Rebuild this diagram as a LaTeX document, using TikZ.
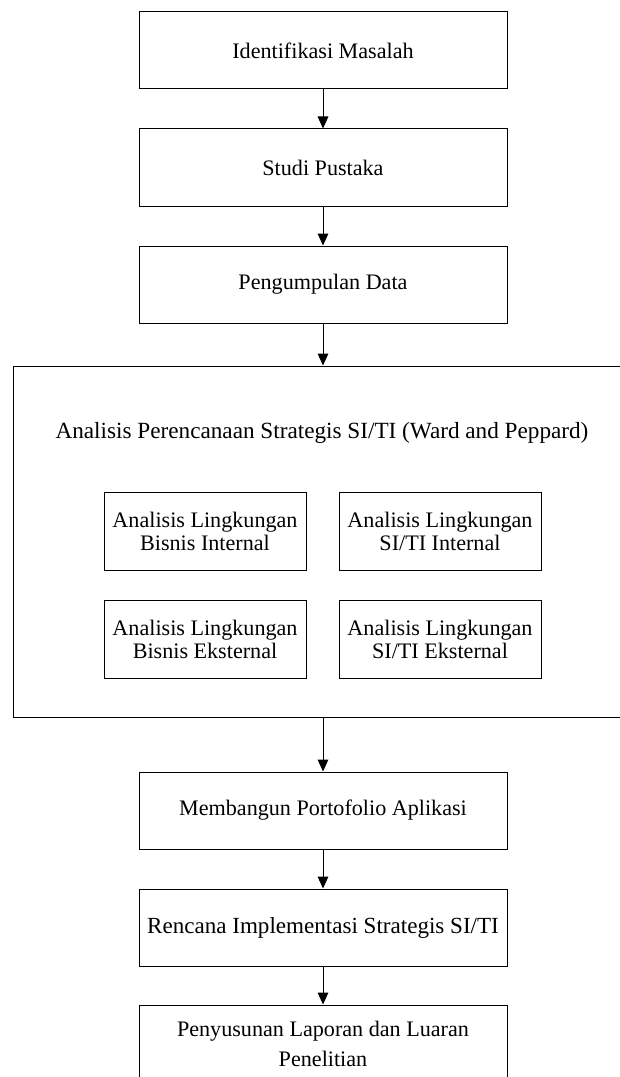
\documentclass[tikz,border=0pt]{standalone}
\usepackage{fontspec}
\setmainfont{Liberation Serif}
\usetikzlibrary{arrows.meta,positioning}

\begin{document}
\begin{tikzpicture}[x=0.75pt,y=-0.75pt,
      box/.style={draw,line width=0.75pt,align=center,minimum height=57.75pt,minimum width=276pt,
        font=\fontsize{16.6}{17.25}\selectfont},
      subbox/.style={draw,line width=0.6pt,align=center,minimum height=58.5pt,minimum width=151.5pt,
        font=\fontsize{16.6}{17.25}\selectfont},
      arr/.style={-{Triangle[length=9pt,width=8pt]},line width=0.75pt}
    ]
      \clip (0,0) rectangle (620,1077);
      \node[box] (idm) at (323,50.5) {Identifikasi Masalah};
      \node[box,below=29.25pt of idm] (studi) {Studi Pustaka};
      \node[box,below=29.25pt of studi] (data) {Pengumpulan Data};
      % kotak analisis
      \node[draw,line width=0.75pt,minimum width=465pt,minimum height=263.25pt] (anl) at (323,541.5) {};
      \node[font=\fontsize{17.4}{18}\selectfont] (judul) at (322,433) {Analisis Perencanaan Strategis SI/TI (Ward and Peppard)};
      \node[subbox] (bi) at (205,531) {Analisis Lingkungan\\Bisnis Internal};
      \node[subbox] (si) at (440,531) {Analisis Lingkungan\\SI/TI Internal};
      \node[subbox] (be) at (205,639.5) {Analisis Lingkungan\\Bisnis Eksternal};
      \node[subbox] (se) at (440,639.5) {Analisis Lingkungan\\SI/TI Eksternal};
      \node[box] (port) at (323,810.5) {Membangun Portofolio Aplikasi};
      \node[box,below=29.25pt of port,font=\fontsize{17.3}{18}\selectfont] (renc) {Rencana Implementasi Strategis SI/TI};
      \node[box,below=28.5pt of renc,font=\fontsize{16.6}{22.5}\selectfont] (lap) {Penyusunan Laporan dan Luaran\\Penelitian};
      \draw[arr] (idm) -- (studi);
      \draw[arr] (studi) -- (data);
      \draw[arr] (data) -- (anl.north -| data);
      \draw[arr] (anl.south -| port) -- (port);
      \draw[arr] (port) -- (renc);
      \draw[arr] (renc) -- (lap);
    \end{tikzpicture}
\end{document}
